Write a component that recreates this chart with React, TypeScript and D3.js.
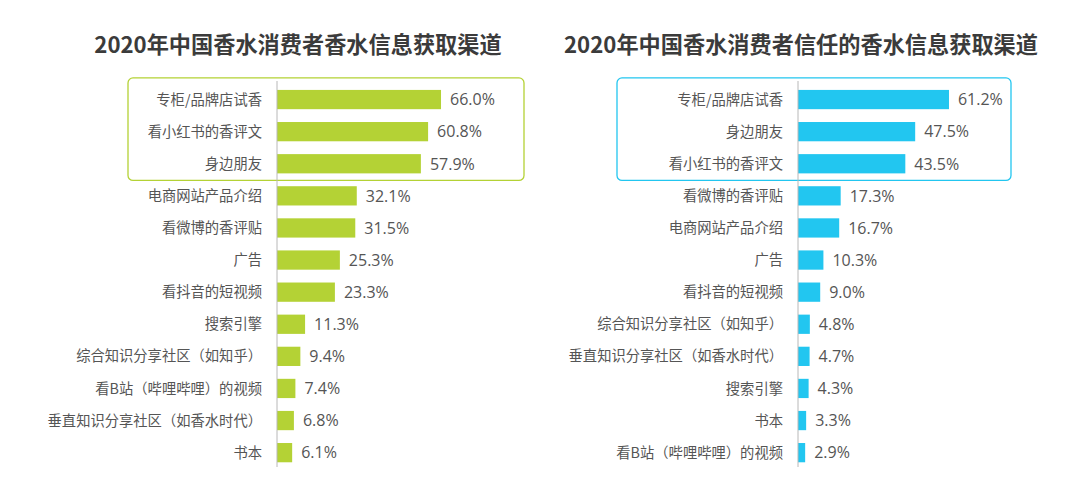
import React, { useEffect, useRef } from 'react';
import * as d3 from 'd3';

const leftTitle = '2020年中国香水消费者香水信息获取渠道';
const leftLabels = [
  '专柜/品牌店试香',
  '看小红书的香评文',
  '身边朋友',
  '电商网站产品介绍',
  '看微博的香评贴',
  '广告',
  '看抖音的短视频',
  '搜索引擎',
  '综合知识分享社区（如知乎）',
  '看B站（哔哩哔哩）的视频',
  '垂直知识分享社区（如香水时代）',
  '书本',
];
const leftValues = [66.0, 60.8, 57.9, 32.1, 31.5, 25.3, 23.3, 11.3, 9.4, 7.4, 6.8, 6.1];

const rightTitle = '2020年中国香水消费者信任的香水信息获取渠道';
const rightLabels = [
  '专柜/品牌店试香',
  '身边朋友',
  '看小红书的香评文',
  '看微博的香评贴',
  '电商网站产品介绍',
  '广告',
  '看抖音的短视频',
  '综合知识分享社区（如知乎）',
  '垂直知识分享社区（如香水时代）',
  '搜索引擎',
  '书本',
  '看B站（哔哩哔哩）的视频',
];
const rightValues = [61.2, 47.5, 43.5, 17.3, 16.7, 10.3, 9.0, 4.8, 4.7, 4.3, 3.3, 2.9];

const highlightCount = 3;

const W = 1080;
const H = 491;
const cjk = '"Noto Sans CJK SC", "Noto Sans", sans-serif';
const num = '"Open Sans", "Noto Sans", sans-serif';

interface PanelCfg {
  title: string;
  titleX: number;
  labels: string[];
  values: number[];
  axisX: number;
  pxPer: number;
  color: string;
  boxX0: number;
  boxX1: number;
}

const App: React.FC = () => {
  const svgRef = useRef<SVGSVGElement>(null);

  useEffect(() => {
    if (!svgRef.current) return;
    const svg = d3.select(svgRef.current);
    svg.selectAll('*').remove();

    const panels: PanelCfg[] = [
      { title: leftTitle, titleX: 298, labels: leftLabels, values: leftValues, axisX: 277, pxPer: 2.485, color: '#b4d235', boxX0: 128, boxX1: 524 },
      { title: rightTitle, titleX: 801, labels: rightLabels, values: rightValues, axisX: 798, pxPer: 2.467, color: '#22c6f0', boxX0: 617, boxX1: 1011 },
    ];

    panels.forEach(p => {
      const g = svg.append('g');
      const x = d3.scaleLinear().domain([0, 100]).range([p.axisX, p.axisX + 100 * p.pxPer]);
      const y = d3.scaleBand<string>()
        .domain(p.labels)
        .range([83.5, 83.5 + 12 * 32.1])
        .paddingInner(0.4)
        .paddingOuter(0.2);

      g.append('text')
        .attr('x', p.titleX).attr('y', 53)
        .attr('text-anchor', 'middle')
        .attr('font-family', cjk).attr('font-weight', 'bold').attr('font-size', 22.2)
        .attr('fill', '#3b3b3b')
        .text(p.title);

      // highlight box around the top three
      const top = y(p.labels[0])! - 12;
      const bottom = y(p.labels[highlightCount - 1])! + y.bandwidth() + 7;
      g.append('rect')
        .attr('x', p.boxX0).attr('y', top)
        .attr('width', p.boxX1 - p.boxX0).attr('height', bottom - top)
        .attr('rx', 5)
        .attr('fill', 'none')
        .attr('stroke', p.color).attr('stroke-width', 1.3);

      g.selectAll('.bar').data(p.values).enter().append('rect')
        .attr('x', x(0))
        .attr('y', (_, i) => y(p.labels[i])!)
        .attr('width', d => x(d) - x(0))
        .attr('height', y.bandwidth())
        .attr('fill', p.color);

      g.append('line')
        .attr('x1', x(0)).attr('x2', x(0))
        .attr('y1', 81).attr('y2', 467)
        .attr('stroke', '#b8b8b8').attr('stroke-width', 1);

      g.selectAll('.lbl').data(p.labels).enter().append('text')
        .attr('x', x(0) - 15)
        .attr('y', d => y(d)! + y.bandwidth() / 2)
        .attr('dy', '0.36em')
        .attr('text-anchor', 'end')
        .attr('font-family', cjk).attr('font-size', 14.3)
        .attr('fill', '#555')
        .text(d => d);

      g.selectAll('.val').data(p.values).enter().append('text')
        .attr('x', d => x(d) + 9)
        .attr('y', (_, i) => y(p.labels[i])! + y.bandwidth() / 2)
        .attr('dy', '0.36em')
        .attr('font-family', num).attr('font-size', 16)
        .attr('fill', '#555')
        .text(d => `${d.toFixed(1)}%`);
    });
  }, []);

  return (
    <div style={{ position: 'absolute', left: 0, top: 0, width: W, height: H, background: '#fff' }}>
      <svg ref={svgRef} width={W} height={H} style={{ display: 'block' }}></svg>
    </div>
  );
};

export default App;
